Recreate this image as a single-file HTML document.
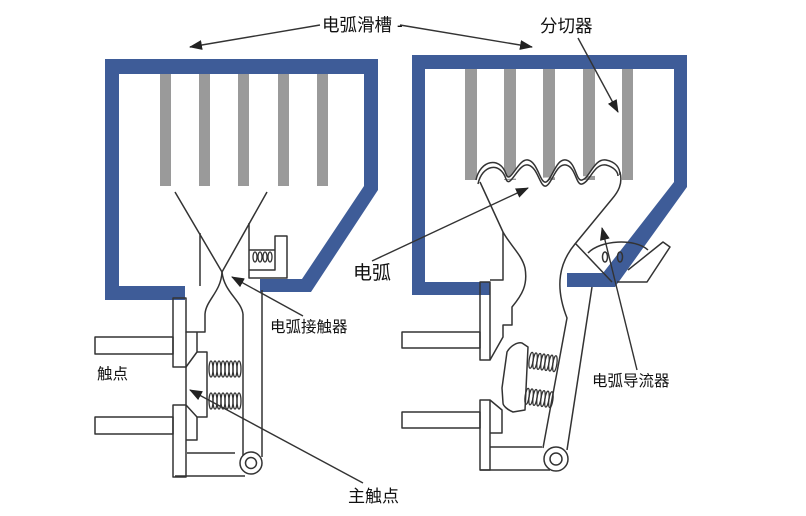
<!DOCTYPE html>
<html><head><meta charset="utf-8"><style>
html,body{margin:0;padding:0;background:#fff;}
svg{display:block;}
text{font-family:"Liberation Sans","Noto Sans CJK SC",sans-serif;fill:#111;}
</style></head><body>
<svg width="806" height="516" viewBox="0 0 806 516" xmlns="http://www.w3.org/2000/svg">
<defs>
<marker id="a" markerWidth="13" markerHeight="10" refX="12" refY="5" orient="auto" markerUnits="userSpaceOnUse"><path d="M0,0 L13,5 L0,10 Z" fill="#222"/></marker>
</defs>
<rect width="806" height="516" fill="#fff"/>

<!-- LEFT CHUTE -->
<g fill="#9a9a9a">
<rect x="160" y="74" width="11" height="112"/>
<rect x="199" y="74" width="11" height="112"/>
<rect x="238" y="74" width="11" height="112"/>
<rect x="278" y="74" width="11" height="112"/>
<rect x="317" y="74" width="11" height="112"/>
</g>
<path d="M105,59 L378,59 L378,190 L311,292 L260,292 L260,279 L302,279 L364,186 L364,74 L119,74 L119,286 L185,286 L185,300 L105,300 Z" fill="#3e5c98"/>

<g fill="none" stroke="#333" stroke-width="1.5" stroke-linejoin="round">
<path d="M175,192 L222,272 M267,192 L222,272"/>
<path d="M222,272 C221,292 206,300 205,314 L205,332 L186,332 L197,332 L197,352 L186,367"/>
<path d="M222,272 C224,292 241,300 243,314"/>
<path d="M200,233 L200,286"/>
<path d="M249,223 L249,278 L287,278 L287,236 L275,236 L275,250 L249,250 M249,270 L275,270 L275,250"/>
<!-- plates and bars -->
<rect x="173" y="298" width="13" height="69"/>
<rect x="95" y="337" width="78" height="17"/>
<rect x="173" y="405" width="13" height="72"/>
<rect x="95" y="417" width="78" height="17"/>
<path d="M197,352 L207,352 L207,417 L197,417 L186,405 M186,367 L186,405"/>
<path d="M197,417 L197,440 L186,440"/>
<path d="M187,453 L235,453 M175,476 L245,476"/>
<path d="M243,314 L243,457 M262,290 L262,457"/>
<circle cx="251" cy="463" r="11" fill="#fff"/>
<circle cx="251" cy="463" r="5.5"/>
</g>
<!-- left springs -->
<g fill="none" stroke="#333" stroke-width="1.3">
<ellipse cx="211" cy="369" rx="2" ry="8"/><ellipse cx="215" cy="369" rx="2" ry="8"/><ellipse cx="219" cy="369" rx="2" ry="8"/><ellipse cx="223" cy="369" rx="2" ry="8"/><ellipse cx="227" cy="369" rx="2" ry="8"/><ellipse cx="231" cy="369" rx="2" ry="8"/><ellipse cx="235" cy="369" rx="2" ry="8"/><ellipse cx="239" cy="369" rx="2" ry="8"/>
<ellipse cx="211" cy="401" rx="2" ry="8"/><ellipse cx="215" cy="401" rx="2" ry="8"/><ellipse cx="219" cy="401" rx="2" ry="8"/><ellipse cx="223" cy="401" rx="2" ry="8"/><ellipse cx="227" cy="401" rx="2" ry="8"/><ellipse cx="231" cy="401" rx="2" ry="8"/><ellipse cx="235" cy="401" rx="2" ry="8"/><ellipse cx="239" cy="401" rx="2" ry="8"/>
<ellipse cx="255" cy="257" rx="2" ry="5"/><ellipse cx="260" cy="257" rx="2" ry="5"/><ellipse cx="265" cy="257" rx="2" ry="5"/><ellipse cx="270" cy="257" rx="2" ry="5"/>
</g>

<!-- RIGHT CHUTE -->
<g fill="#9a9a9a">
<rect x="465" y="69" width="12" height="111"/>
<rect x="504" y="69" width="12" height="111"/>
<rect x="543" y="69" width="12" height="111"/>
<rect x="583" y="69" width="12" height="111"/>
<rect x="622" y="69" width="11" height="111"/>
</g>
<path d="M412,55 L687,55 L687,187 L615,287 L567,287 L567,273 L603,273 L674,182 L674,69 L425,69 L425,282 L490,282 L490,295 L412,295 Z" fill="#3e5c98"/>

<g fill="none" stroke="#333" stroke-width="1.5" stroke-linejoin="round">
<!-- wavy arc -->
<path d="M476,180 C480,160 500,156 506,174 C510,186 518,158 528,160 C538,162 540,184 546,182 C552,180 556,158 566,160 C576,162 576,182 582,180 C590,178 594,158 606,160 C616,162 620,168 620,175" fill="#fff"/>
<path d="M478,184 C482,165 500,161 506,179 C510,190 518,163 528,165 C538,167 540,188 546,186 C552,184 556,163 566,165 C576,167 576,186 582,184 C590,182 594,163 606,165 C614,167 618,172 618,176"/>
<!-- right contour & arm -->
<path d="M620,172 C623,184 618,192 612,199 L575,244 C560,262 554,285 567,318 L543,448"/>
<path d="M592,287 L567,450"/>
<!-- left fixed arc contact -->
<path d="M480,182 L503,232 C510,245 522,255 525,268 C528,285 522,295 512,307 L512,325 L503,325 L503,337 L490,360"/>
<path d="M503,232 L503,280 L490,280"/>
<rect x="480" y="282" width="10" height="78"/>
<rect x="402" y="332" width="78" height="16"/>
<rect x="480" y="400" width="10" height="70"/>
<rect x="402" y="412" width="78" height="16"/>
<path d="M490,400 L502,410 L502,433 L490,433"/>
<path d="M490,447 L542,447 M480,470 L550,470"/>
<!-- moving contact piece -->
<path d="M507,352 C511,345 518,342 522,343 L528,347 L525,410 L513,412 C508,410 503,406 503,403 L502,388 Z"/>
<circle cx="556" cy="459" r="12" fill="#fff"/>
<circle cx="556" cy="459" r="6"/>
<!-- arc runner -->
<path d="M628,270 L663,242 L670,247 L647,282 L617,282"/>
<path d="M588,253 C600,240 635,238 648,250"/>
<path d="M575,243 L612,282"/>
<ellipse cx="605" cy="257" rx="2.5" ry="5"/>
<ellipse cx="620" cy="257" rx="2.5" ry="5"/>
</g>
<!-- right springs (tilted) -->
<g fill="none" stroke="#333" stroke-width="1.3">
<g transform="rotate(8 543 362)">
<ellipse cx="531" cy="362" rx="2" ry="8"/><ellipse cx="535" cy="362" rx="2" ry="8"/><ellipse cx="539" cy="362" rx="2" ry="8"/><ellipse cx="543" cy="362" rx="2" ry="8"/><ellipse cx="547" cy="362" rx="2" ry="8"/><ellipse cx="551" cy="362" rx="2" ry="8"/><ellipse cx="555" cy="362" rx="2" ry="8"/>
</g>
<g transform="rotate(8 539 398)">
<ellipse cx="527" cy="398" rx="2" ry="8"/><ellipse cx="531" cy="398" rx="2" ry="8"/><ellipse cx="535" cy="398" rx="2" ry="8"/><ellipse cx="539" cy="398" rx="2" ry="8"/><ellipse cx="543" cy="398" rx="2" ry="8"/><ellipse cx="547" cy="398" rx="2" ry="8"/><ellipse cx="551" cy="398" rx="2" ry="8"/>
</g>
</g>

<!-- ARROWS -->
<g stroke="#333" stroke-width="1.4" fill="none" marker-end="url(#a)">
<line x1="320" y1="25" x2="190" y2="47"/>
<line x1="400" y1="25" x2="532" y2="47"/>
<line x1="578" y1="38" x2="618" y2="112"/>
<line x1="372" y1="261" x2="528" y2="188"/>
<line x1="303" y1="316" x2="232" y2="277"/>
<line x1="363" y1="483" x2="190" y2="390"/>
<line x1="637" y1="370" x2="602" y2="228"/>
</g>

<!-- LABELS -->
<text x="322" y="31" font-size="17.5">电弧滑槽 -</text>
<text x="540" y="32" font-size="17.5">分切器</text>
<text x="353" y="279" font-size="19">电弧</text>
<text x="270" y="332" font-size="15.5">电弧接触器</text>
<text x="97" y="379" font-size="15.5">触点</text>
<text x="348" y="502" font-size="17">主触点</text>
<text x="592" y="386" font-size="15.5">电弧导流器</text>
</svg>
</body></html>
